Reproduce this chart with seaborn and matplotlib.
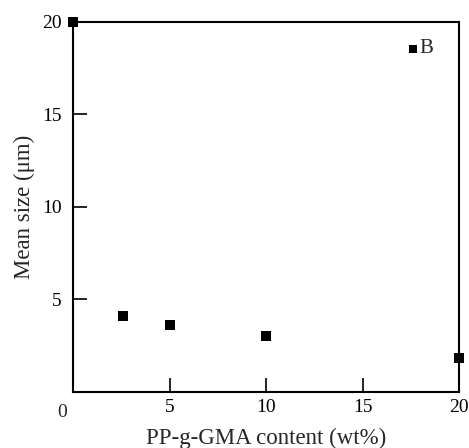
import pandas as pd
import matplotlib.pyplot as plt
import seaborn as sns

sns.set_theme(style="white")
plt.rcParams['font.family'] = ['Liberation Serif', 'DejaVu Serif']

# data
gma_content = [0, 2.6, 5.0, 10.0, 20.0]
mean_size = [20.0, 4.1, 3.6, 3.0, 1.8]
key_x = [17.6]
key_y = [18.55]
ticks = [5, 10, 15, 20]

df = pd.DataFrame({"content": gma_content, "size": mean_size})

fig = plt.figure(figsize=(4.69, 4.48), dpi=100)
ax = fig.add_axes([0.1557, 0.1257, 0.823, 0.8252])

sns.scatterplot(data=df, x="content", y="size", marker="s", s=42, color="black",
                linewidth=0, clip_on=False, ax=ax)
sns.scatterplot(x=key_x, y=key_y, marker="s", s=32, color="black",
                linewidth=0, clip_on=False, ax=ax)
ax.annotate("B", (key_x[0], key_y[0]), xytext=(5, 0), textcoords="offset points",
            ha="left", va="center", fontsize=15)

ax.set_xlim(0, 20)
ax.set_ylim(0, 20)
ax.set_xticks(ticks)
ax.set_yticks(ticks)
ax.tick_params(axis="both", direction="in", length=10, width=1.2, color="black",
               labelsize=14, labelcolor="black", bottom=True, left=True)
ax.tick_params(axis="x", pad=5)
ax.tick_params(axis="y", pad=8)
ax.annotate("0", (0, 0), xytext=(-8, -9), textcoords="offset points",
            ha="center", va="top", fontsize=14)

for sp in ax.spines.values():
    sp.set_color("black")
    sp.set_linewidth(1.5)

ax.set_xlabel("PP-g-GMA content (wt%)", fontsize=16.5, labelpad=9)
ax.set_ylabel("Mean size (μm)", fontsize=16.5, labelpad=5)

fig.savefig("out.png", dpi=100)
